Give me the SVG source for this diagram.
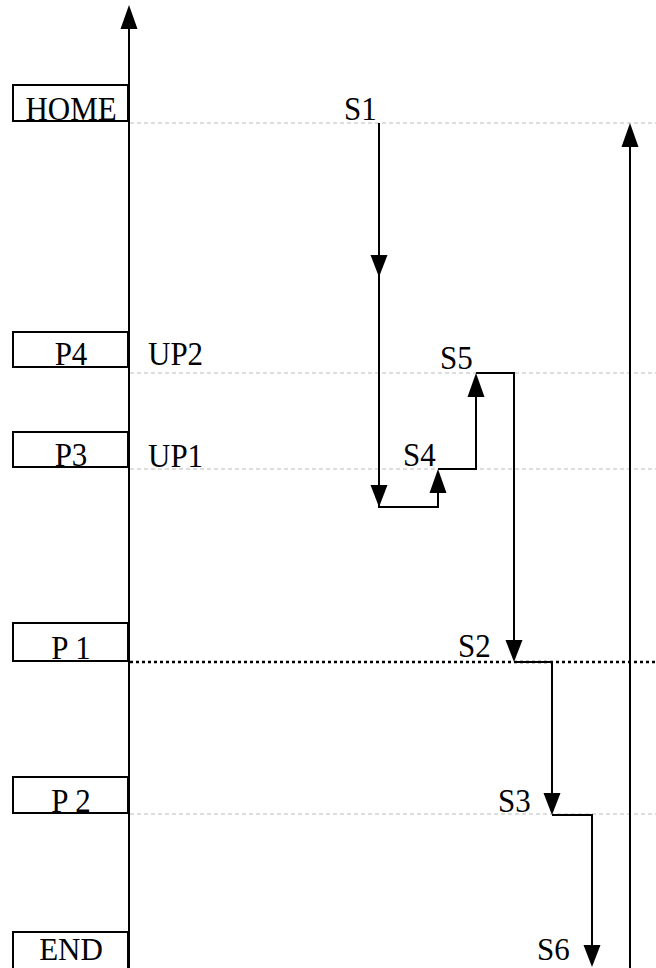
<svg xmlns="http://www.w3.org/2000/svg" xmlns:xlink="http://www.w3.org/1999/xlink" width="656" height="968" viewBox="0 0 656 968">
<style>
.bg{fill:#fff}
.box{fill:#fff;stroke:#000;stroke-width:2}
.t{font-family:"Liberation Serif","Times New Roman",serif;font-size:31px;fill:#000}
.tm{text-anchor:middle}
.ln{fill:none;stroke:#000;stroke-width:2}
.grid{fill:none;stroke:#bbb;stroke-width:1;stroke-dasharray:4 3}
.dot{fill:none;stroke:#000;stroke-width:2.4;stroke-dasharray:3 3}
.ah{fill:#000}
</style>
<defs>
<path id="ad" d="M-8.5,-22 L8.5,-22 L0,0 Z"/>
<path id="au" d="M-8.5,24 L8.5,24 L0,0 Z"/>
</defs>
<rect class="bg" x="0" y="0" width="656" height="968"/>
<g id="gridlines">
<line class="grid" x1="130" y1="123" x2="656" y2="123"/>
<line class="grid" x1="130" y1="373" x2="656" y2="373"/>
<line class="grid" x1="130" y1="469" x2="656" y2="469"/>
<line class="grid" x1="130" y1="814" x2="656" y2="814"/>
<line class="dot" x1="130" y1="662" x2="656" y2="662"/>
</g>
<g id="connectors">
<line class="ln" x1="129" y1="968" x2="129" y2="20"/>
<use href="#au" class="ah" x="129" y="5"/>
<line class="ln" x1="630" y1="968" x2="630" y2="135"/>
<use href="#au" class="ah" x="630" y="123"/>
<polyline class="ln" points="379,123 379,507 438,507 438,485"/>
<use href="#ad" class="ah" x="379" y="277"/>
<use href="#ad" class="ah" x="379" y="507"/>
<use href="#au" class="ah" x="438" y="469"/>
<polyline class="ln" points="438,469 476,469 476,385"/>
<use href="#au" class="ah" x="476" y="373"/>
<polyline class="ln" points="476,373 514,373 514,652"/>
<use href="#ad" class="ah" x="514" y="662"/>
<polyline class="ln" points="514,662 552,662 552,805"/>
<use href="#ad" class="ah" x="552" y="815"/>
<polyline class="ln" points="552,815 592,815 592,955"/>
<use href="#ad" class="ah" x="592" y="967"/>
</g>
<g id="home"><rect class="box" x="13" y="85" width="115" height="36"/><text class="t tm" transform="translate(71,120) scale(1,1.1)">HOME</text></g>
<g id="p4"><rect class="box" x="13" y="332" width="115" height="35"/><text class="t tm" transform="translate(71,365) scale(1,1.1)">P4</text></g>
<g id="p3"><rect class="box" x="13" y="432" width="115" height="35"/><text class="t tm" transform="translate(71,466) scale(1,1.1)">P3</text></g>
<g id="p1"><rect class="box" x="13" y="623" width="115" height="38"/><text class="t tm" transform="translate(71,659) scale(1,1.1)">P 1</text></g>
<g id="p2"><rect class="box" x="13" y="777" width="115" height="36"/><text class="t tm" transform="translate(71,812) scale(1,1.1)">P 2</text></g>
<g id="end"><rect class="box" x="13" y="932" width="115" height="40"/><text class="t tm" transform="translate(71,960) scale(1,1.05)">END</text></g>
<g id="up2"><text class="t" transform="translate(148,365) scale(1,1.1)">UP2</text></g>
<g id="up1"><text class="t" transform="translate(148,467) scale(1,1.1)">UP1</text></g>
<g id="s1"><text class="t" transform="translate(344,120) scale(1,1.1)">S1</text></g>
<g id="s5"><text class="t" transform="translate(440,369) scale(1,1.1)">S5</text></g>
<g id="s4"><text class="t" transform="translate(403,466) scale(1,1.1)">S4</text></g>
<g id="s2"><text class="t" transform="translate(458,657) scale(1,1.1)">S2</text></g>
<g id="s3"><text class="t" transform="translate(498,812) scale(1,1.1)">S3</text></g>
<g id="s6"><text class="t" transform="translate(537,960) scale(1,1.05)">S6</text></g>
</svg>
